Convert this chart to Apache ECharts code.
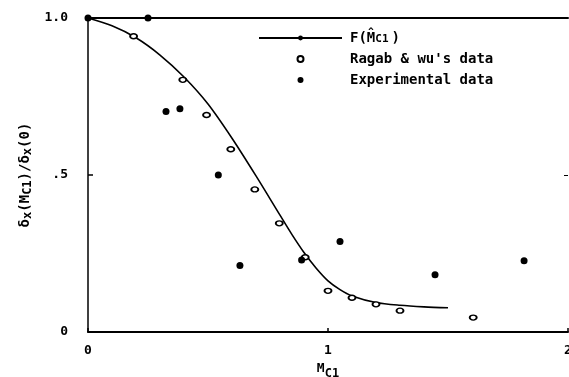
<!DOCTYPE html>
<html>
<head>
<meta charset="utf-8">
<script src="https://cdn.jsdelivr.net/npm/echarts@6/dist/echarts.min.js"></script>
<style>
  html, body { margin: 0; padding: 0; background: #fff; }
  #chart { width: 569px; height: 377px; }
</style>
</head>
<body>
<div id="chart"></div>
<script>
// Model curve F(M̂c1)
const curveX = [0, 0.1, 0.2, 0.3, 0.4, 0.5, 0.6, 0.7, 0.8, 0.85, 0.9, 0.95, 1.0, 1.05, 1.1, 1.2, 1.3, 1.4, 1.5];
const curveY = [1.0, 0.975, 0.937, 0.882, 0.812, 0.726, 0.617, 0.497, 0.372, 0.31, 0.253, 0.204, 0.163, 0.135, 0.115, 0.094, 0.085, 0.08, 0.077];

// Ragab & Wu's data
const ragabX = [0.19, 0.395, 0.494, 0.595, 0.695, 0.797, 0.905, 1.0, 1.1, 1.2, 1.3, 1.605];
const ragabY = [0.942, 0.803, 0.691, 0.582, 0.454, 0.346, 0.238, 0.131, 0.109, 0.088, 0.068, 0.046];

// Experimental data
const expX = [0, 0.25, 0.325, 0.383, 0.543, 0.633, 0.89, 1.05, 1.446, 1.817];
const expY = [1.0, 1.0, 0.702, 0.711, 0.5, 0.212, 0.229, 0.288, 0.182, 0.227];

// Axis tick labels
const xTickLabels = { 0: '0', 1: '1', 2: '2' };
const yTickLabels = { 0: '0', 0.5: '.5', 1: '1.0' };

const curveName = 'F(M̂C1)';
const ragabName = "Ragab & wu's data";
const expName = 'Experimental data';

const FONT = '"DejaVu Sans Mono", "Liberation Mono", monospace';
const pair = (xs, ys) => xs.map((x, i) => [x, ys[i]]);

const chart = echarts.init(document.getElementById('chart'), null, { renderer: 'canvas' });

chart.setOption({
  animation: false,
  backgroundColor: '#fff',
  grid: { left: 88, right: 1, top: 18, bottom: 45, containLabel: false, outerBoundsMode: 'none' },
  legend: {
    orient: 'vertical',
    left: 258,
    top: 30,
    padding: 0,
    itemWidth: 83,
    itemHeight: 6,
    itemGap: 7,
    selectedMode: false,
    data: [curveName, ragabName, expName],
    formatter: function (name) {
      if (name === curveName) return '{n|F(M̂}{s|C1}{n|)}';
      return '{n|' + name + '}';
    },
    textStyle: {
      color: '#000',
      fontFamily: FONT,
      fontWeight: 'bold',
      fontSize: 14,
      rich: {
        n: { fontFamily: FONT, fontWeight: 'bold', fontSize: 14, lineHeight: 14, color: '#000', padding: [0, 0, 0, 3] },
        s: { fontFamily: FONT, fontWeight: 'bold', fontSize: 11, lineHeight: 14, color: '#000', verticalAlign: 'bottom', padding: [4, 0, 0, 0] }
      }
    }
  },
  xAxis: [
    {
      type: 'value', position: 'bottom', min: 0, max: 2, interval: 1,
      axisLine: { show: true, onZero: false, lineStyle: { color: '#000', width: 2 } },
      axisTick: { show: true, inside: true, length: 4, lineStyle: { color: '#000', width: 1.5 } },
      splitLine: { show: false },
      axisLabel: {
        margin: 12, color: '#000', fontFamily: FONT, fontWeight: 'bold', fontSize: 13,
        formatter: v => xTickLabels[v] ?? '', showMaxLabel: true, showMinLabel: true
      },
      name: '{m|M}{s|C1}',
      nameLocation: 'middle',
      nameGap: 26,
      nameTextStyle: {
        rich: {
          m: { fontFamily: FONT, fontWeight: 'bold', fontSize: 13, lineHeight: 18, color: '#000', verticalAlign: 'top' },
          s: { fontFamily: FONT, fontWeight: 'bold', fontSize: 12, lineHeight: 18, color: '#000', verticalAlign: 'bottom', padding: [6, 0, 0, 0] }
        }
      }
    },
    {
      type: 'value', position: 'top', min: 0, max: 2, interval: 1,
      axisLine: { show: true, onZero: false, lineStyle: { color: '#000', width: 2 } },
      axisTick: { show: false },
      axisLabel: { show: false },
      splitLine: { show: false }
    }
  ],
  yAxis: [
    {
      type: 'value', position: 'left', min: 0, max: 1, interval: 0.5,
      axisLine: { show: true, onZero: false, lineStyle: { color: '#000', width: 1.5 } },
      axisTick: { show: true, inside: true, length: 5, lineStyle: { color: '#000', width: 1.5 } },
      splitLine: { show: false },
      axisLabel: {
        margin: 20, color: '#000', fontFamily: FONT, fontWeight: 'bold', fontSize: 13,
        formatter: v => yTickLabels[v] ?? ''
      },
      name: 'δ{s|x}(M{s|C1})/δ{s|x}(0)',
      nameLocation: 'middle',
      nameRotate: 90,
      nameGap: 50,
      nameTextStyle: {
        color: '#000', fontFamily: FONT, fontWeight: 'bold', fontSize: 14,
        rich: {
          s: { fontFamily: FONT, fontWeight: 'bold', fontSize: 12, color: '#000', verticalAlign: 'bottom', padding: [5, 0, 0, 0] }
        }
      }
    },
    {
      type: 'value', position: 'right', min: 0, max: 1, interval: 0.5,
      axisLine: { show: false, onZero: false },
      axisTick: { show: true, inside: true, length: 4, lineStyle: { color: '#000', width: 1 } },
      axisLabel: { show: false },
      splitLine: { show: false }
    }
  ],
  series: [
    {
      name: curveName,
      type: 'line',
      xAxisIndex: 0, yAxisIndex: 0,
      data: pair(curveX, curveY),
      smooth: 0.3,
      symbol: 'none',
      lineStyle: { color: '#000', width: 1.6 },
      itemStyle: { color: '#000' },
      z: 2
    },
    {
      name: ragabName,
      type: 'scatter',
      xAxisIndex: 0, yAxisIndex: 0,
      data: pair(ragabX, ragabY),
      symbol: 'circle',
      symbolSize: [7, 5],
      itemStyle: { color: '#fff', borderColor: '#000', borderWidth: 1.6, opacity: 1 },
      z: 3
    },
    {
      name: expName,
      type: 'scatter',
      xAxisIndex: 0, yAxisIndex: 0,
      data: pair(expX, expY),
      symbol: 'circle',
      symbolSize: 7,
      itemStyle: { color: '#000', opacity: 1 },
      z: 4
    }
  ]
});
</script>
</body>
</html>
